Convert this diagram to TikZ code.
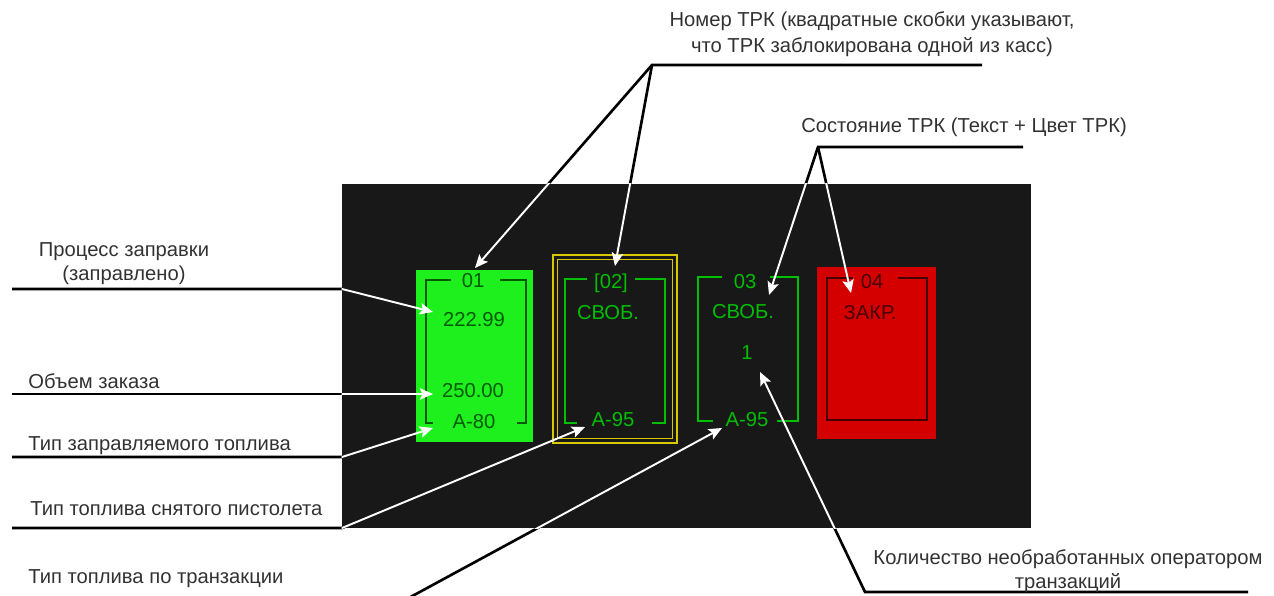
\documentclass[tikz,border=0pt]{standalone}
\usepackage{fontspec}
\setmainfont{Liberation Sans}
\usetikzlibrary{arrows.meta}
\definecolor{PanelBlack}{RGB}{24,24,24}
\definecolor{FuelGreen}{RGB}{30,240,30}
\definecolor{DarkGreen}{RGB}{0,90,0}
\definecolor{TextGreen}{RGB}{0,190,0}
\definecolor{LockYellow}{RGB}{215,200,0}
\definecolor{ClosedRed}{RGB}{212,0,0}
\definecolor{DarkRed}{RGB}{70,0,0}
\definecolor{LabelGray}{RGB}{50,50,50}
\tikzset{
  lbl/.style={font=\fontsize{11.5}{13.5}\selectfont, text=LabelGray, inner sep=0pt},
  ptxt/.style={font=\fontsize{11.5}{13.5}\selectfont, inner sep=0pt},
  pumpbox/.style={minimum width=2.36cm, minimum height=3.44cm, inner sep=0pt},
  lockframe/.style={draw=LockYellow, line width=1.1pt, inner sep=0pt},
  brk/.style={line width=0.8pt},
  blackline/.style={line width=1.5pt, black},
  whitearrow/.style={line width=1.1pt, white, -{Stealth[length=7.5pt, width=6.5pt, inset=1.5pt]}},
}
% bracket round a pump: colour, left, right, top, bottom, top gap, bottom gap
\newcommand{\pumpbracket}[9]{%
  \draw[brk, #1] (#6,#4) -- (#2,#4) -- (#2,#5) -- (#8,#5);
  \draw[brk, #1] (#7,#4) -- (#3,#4) -- (#3,#5) -- (#9,#5);
}

\begin{document}
\begin{tikzpicture}[x=0.02cm, y=-0.02cm]
  \useasboundingbox (0,0) rectangle (1274,595);
  \clip (0,0) rectangle (1274,595);

  % leader ends, knees and tips
  \coordinate (s1) at (12,289);   \coordinate (k1) at (342,289);  \coordinate (t1) at (433,312);
  \coordinate (s2) at (12,394);   \coordinate (k2) at (342,394);  \coordinate (t2) at (433,394);
  \coordinate (s3) at (12,457);   \coordinate (k3) at (342,457);  \coordinate (t3) at (433,428);
  \coordinate (s4) at (12,528);   \coordinate (k4) at (342,528);  \coordinate (t4) at (585,427);
  \coordinate (s5) at (398,604);  \coordinate (k5) at (405,600);  \coordinate (t5) at (722,428);
  \coordinate (e6) at (982,65);   \coordinate (k6) at (652,65);
  \coordinate (t6a) at (475,268); \coordinate (t6b) at (615,266);
  \coordinate (e7) at (1023,147); \coordinate (k7) at (818,147);
  \coordinate (t7a) at (769,295); \coordinate (t7b) at (851,293);
  \coordinate (e8) at (1248,592); \coordinate (k8) at (865,592);  \coordinate (t8) at (760,372);
  \def\leaderlist{s1/k1/t1, s2/k2/t2, s3/k3/t3, s4/k4/t4, s5/k5/t5,
    e6/k6/t6a, k6/k6/t6b, e7/k7/t7a, k7/k7/t7b, e8/k8/t8}

  % black part of the leaders
  \foreach \s/\k/\t in \leaderlist
    \draw[blackline] (\s) -- (\k) -- (\t);

  % panel
  \node[fill=PanelBlack, minimum width=13.78cm, minimum height=6.88cm, inner sep=0pt]
    (panel) at (686.5,356) {};

  % pumps
  \node[pumpbox, fill=FuelGreen] (p1) at (474.5,356) {};
  \node[lockframe, minimum width=2.48cm, minimum height=3.76cm] (p2) at (615,349) {};
  \node[lockframe, minimum width=2.30cm, minimum height=3.58cm] (p2in) at (615,349) {};
  \node[pumpbox, fill=ClosedRed, minimum width=2.38cm] (p4) at (876.5,353) {};

  \pumpbracket{DarkGreen}{426}{526}{280}{423}{451}{500}{433}{517}
  \pumpbracket{TextGreen}{565}{665}{279}{423}{587}{635}{577}{652}
  \pumpbracket{TextGreen}{698}{798}{277}{421}{722}{770}{713}{777}
  \pumpbracket{DarkRed}{827}{927}{278}{420}{853}{898}{877}{877}

  \node[ptxt, text=DarkGreen] (n1) at (473,281) {01};
  \node[ptxt, text=DarkGreen] (v1) at (474,320) {222.99};
  \node[ptxt, text=DarkGreen] (o1) at (473,391) {250.00};
  \node[ptxt, text=DarkGreen] (f1) at (474,422) {А-80};

  \node[ptxt, text=TextGreen] (n2) at (611,283) {[02]};
  \node[ptxt, text=TextGreen] (st2) at (608,313) {СВОБ.};
  \node[ptxt, text=TextGreen] (f2) at (613,420) {А-95};

  \node[ptxt, text=TextGreen] (n3) at (745,282) {03};
  \node[ptxt, text=TextGreen] (st3) at (743,312) {СВОБ.};
  \node[ptxt, text=TextGreen] (q3) at (747,353) {1};
  \node[ptxt, text=TextGreen] (f3) at (747,420) {А-95};

  \node[ptxt, text=DarkRed] (n4) at (872,282) {04};
  \node[ptxt, text=DarkRed] (st4) at (870,313) {ЗАКР.};

  % white part of the leaders
  \begin{scope}
    \clip (panel.north west) rectangle (panel.south east);
    \foreach \s/\k/\t in \leaderlist
      \draw[whitearrow] (\s) -- (\k) -- (\t);
  \end{scope}

  % labels
  \node[lbl, align=center] (lfill) at (124,264) {Процесс заправки\\(заправлено)};
  \node[lbl, anchor=base west] (lorder) at (28,388) {Объем заказа};
  \node[lbl, anchor=base west] (lfuel) at (28,450) {Тип заправляемого топлива};
  \node[lbl, anchor=base west] (lgun) at (30,515) {Тип топлива снятого пистолета};
  \node[lbl, anchor=base west] (ltrans) at (28,583) {Тип топлива по транзакции};
  \node[lbl, align=center] (lnum) at (872,34) {Номер ТРК (квадратные скобки указывают,\\[1pt]что ТРК заблокирована одной из касс)};
  \node[lbl, anchor=base] (lstate) at (964,132) {Состояние ТРК (Текст + Цвет ТРК)};
  \node[lbl, align=center] (lcount) at (1068,571) {Количество необработанных оператором\\транзакций};
\end{tikzpicture}
\end{document}
